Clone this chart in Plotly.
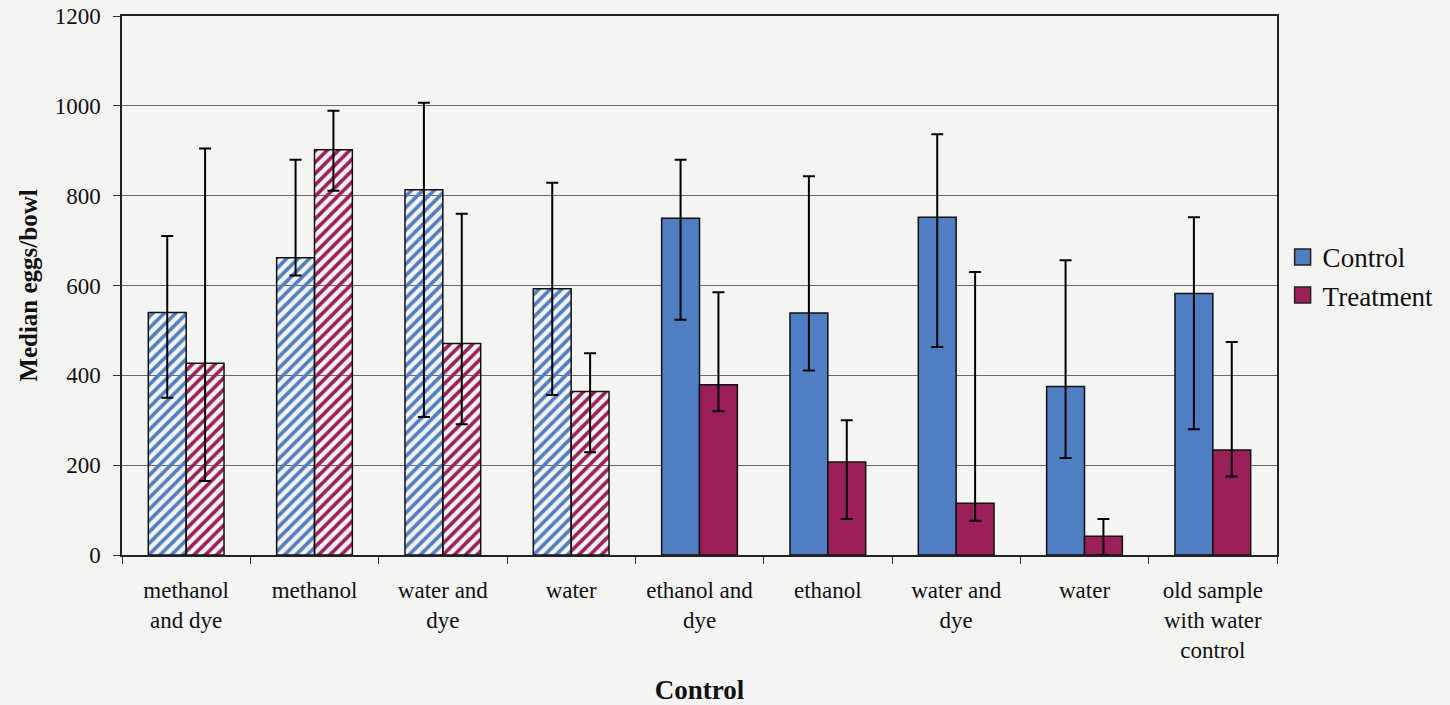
import plotly.graph_objects as go

group_keys = ["g1", "g2", "g3", "g4", "g5", "g6", "g7", "g8", "g9"]
group_labels = ["methanol<br>and dye", "methanol", "water and<br>dye", "water",
                "ethanol and<br>dye", "ethanol", "water and<br>dye", "water",
                "old sample<br>with water<br>control"]

control = [540, 662, 813, 593, 750, 539, 752, 375, 582]
control_hi = [710, 880, 1007, 829, 880, 843, 937, 656, 752]
control_lo = [350, 622, 307, 356, 524, 411, 463, 216, 280]

treatment = [427, 902, 471, 364, 379, 207, 115, 42, 234]
treatment_hi = [905, 989, 760, 449, 585, 300, 630, 80, 474]
treatment_lo = [165, 811, 291, 229, 320, 80, 76, 0, 175]

hatched = [True, True, True, True, False, False, False, False, False]

BLUE = "#4f7ec2"
RED = "#9b1f58"
BLUE_H = "#2242a0"
RED_H = "#9e1f44"
BG = "#f4f4f3"
FONT = "Liberation Serif"


def err(vals, hi, lo):
    return dict(type="data", symmetric=False,
                array=[h - v for v, h in zip(vals, hi)],
                arrayminus=[v - l for v, l in zip(vals, lo)],
                color="black", thickness=2, width=6)


def marker(solid, hatch):
    return dict(color=[solid for _ in hatched],
                line=dict(color="#111111", width=1.5),
                pattern=dict(shape=["/" if h else "" for h in hatched],
                             fgcolor=[hatch for _ in hatched],
                             bgcolor=["white" for _ in hatched],
                             fillmode="replace", fgopacity=1,
                             size=8, solidity=0.45))


fig = go.Figure()

fig.add_trace(go.Bar(
    x=group_keys, y=control, offsetgroup="c", showlegend=False,
    marker=marker(BLUE, BLUE_H),
    error_y=err(control, control_hi, control_lo),
))
fig.add_trace(go.Bar(
    x=group_keys, y=treatment, offsetgroup="t", showlegend=False,
    marker=marker(RED, RED_H),
    error_y=err(treatment, treatment_hi, treatment_lo),
))

for name, col in [("Control", BLUE), ("Treatment", RED)]:
    fig.add_trace(go.Scatter(
        x=[None], y=[None], mode="markers", name=name,
        marker=dict(symbol="square", size=16, color=col,
                    line=dict(color="#222222", width=1.5)),
    ))

fig.update_layout(
    width=1450, height=705,
    margin=dict(l=122, r=172, t=16, b=150),
    paper_bgcolor=BG, plot_bgcolor=BG,
    font=dict(family=FONT, color="#111111", size=23),
    barmode="group", bargap=0.41, bargroupgap=0,
    legend=dict(x=1.004, xanchor="left", y=0.517, yanchor="middle",
                font=dict(size=27, family=FONT), bgcolor="rgba(0,0,0,0)",
                itemwidth=30, tracegroupgap=0),
    showlegend=True,
)

fig.update_xaxes(
    type="category", tickmode="array", tickvals=group_keys, ticktext=group_labels,
    tickson="boundaries", ticks="outside", ticklen=7, tickcolor="#333333",
    ticklabelstandoff=14, automargin=False,
    showline=True, linecolor="#222222", linewidth=1.5, mirror=True,
    showgrid=False, tickfont=dict(size=23, family=FONT),
    title=dict(text="<b>Control</b>", font=dict(size=27, family=FONT), standoff=22),
)
fig.update_yaxes(
    range=[0, 1200], dtick=200, tick0=0, automargin=False,
    ticks="outside", ticklen=7, tickcolor="#333333", ticklabelstandoff=8,
    showline=True, linecolor="#222222", linewidth=1.5, mirror=True,
    showgrid=True, gridcolor="#6a6a6a", gridwidth=1,
    zeroline=False, tickfont=dict(size=23, family=FONT),
    title=dict(text="<b>Median eggs/bowl</b>", font=dict(size=25, family=FONT), standoff=10),
)

fig.write_html(
    "out.html",
    config={"displayModeBar": False},
    post_script="document.body.style.margin='0';document.body.style.background='%s';" % BG,
)
